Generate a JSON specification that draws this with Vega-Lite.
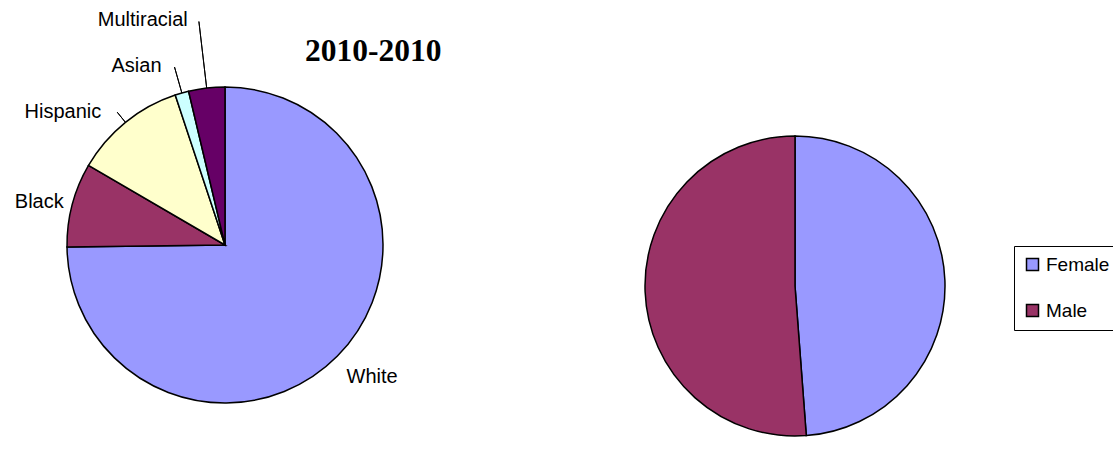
{
  "$schema": "https://vega.github.io/schema/vega-lite/v6.json",
  "width": 1113,
  "height": 454,
  "autosize": {"type": "fit", "contains": "padding"},
  "padding": 0,
  "background": "white",
  "config": {"view": {"stroke": null}, "text": {"font": "Liberation Sans", "color": "black"}},
  "title": {
    "text": "2010-2010",
    "font": "Liberation Serif",
    "fontSize": 31.5,
    "fontWeight": "bold",
    "color": "black",
    "anchor": "start",
    "frame": "group",
    "baseline": "alphabetic",
    "dx": 305,
    "offset": -92
  },
  "data": {
    "values": [
      {"chart": "race", "category": "White", "pct": 74.8, "order": 1},
      {"chart": "race", "category": "Black", "pct": 8.6, "order": 2},
      {"chart": "race", "category": "Hispanic", "pct": 11.5, "order": 3},
      {"chart": "race", "category": "Asian", "pct": 1.4, "order": 4},
      {"chart": "race", "category": "Multiracial", "pct": 3.7, "order": 5},
      {"chart": "gender", "category": "Female", "pct": 48.8, "order": 1},
      {"chart": "gender", "category": "Male", "pct": 51.2, "order": 2}
    ]
  },
  "encoding": {
    "x": {"field": "chart", "type": "nominal", "scale": {"type": "point", "domain": ["race", "gender"], "range": [225, 795], "padding": 0}, "axis": null},
    "y": {"field": "chart", "type": "nominal", "scale": {"type": "point", "domain": ["race", "gender"], "range": [245, 286], "padding": 0}, "axis": null},
    "theta": {"field": "pct", "type": "quantitative", "stack": true},
    "order": {"field": "order", "type": "quantitative"}
  },
  "layer": [
    {
      "transform": [{"filter": "datum.chart === 'race'"}],
      "mark": {"type": "arc", "radius": 158, "stroke": "black", "strokeWidth": 1.5},
      "encoding": {
        "color": {
          "field": "category", "type": "nominal",
          "scale": {"domain": ["White", "Black", "Hispanic", "Asian", "Multiracial", "Female", "Male"], "range": ["#9999FF", "#993366", "#FFFFCC", "#CCFFFF", "#660066", "#9999FF", "#993366"]},
          "legend": {"values": ["Female", "Male"], "title": null, "orient": "none", "legendX": 1014, "legendY": 246, "symbolType": "square", "symbolSize": 144, "symbolStrokeColor": "black", "symbolStrokeWidth": 1.5, "labelFontSize": 19, "labelFont": "Liberation Sans", "labelColor": "black", "rowPadding": 26, "padding": 9, "strokeColor": "black", "labelOffset": 4, "fillColor": "white"}
        }
      }
    },
    {
      "transform": [{"filter": "datum.chart === 'gender'"}],
      "mark": {"type": "arc", "radius": 150, "stroke": "black", "strokeWidth": 1.5},
      "encoding": {
        "color": {
          "field": "category", "type": "nominal",
          "scale": {"domain": ["White", "Black", "Hispanic", "Asian", "Multiracial", "Female", "Male"], "range": ["#9999FF", "#993366", "#FFFFCC", "#CCFFFF", "#660066", "#9999FF", "#993366"]},
          "legend": {"values": ["Female", "Male"], "title": null, "orient": "none", "legendX": 1014, "legendY": 246, "symbolType": "square", "symbolSize": 144, "symbolStrokeColor": "black", "symbolStrokeWidth": 1.5, "labelFontSize": 19, "labelFont": "Liberation Sans", "labelColor": "black", "rowPadding": 26, "padding": 9, "strokeColor": "black", "labelOffset": 4, "fillColor": "white"}
        }
      }
    },
    {
      "transform": [{"filter": "datum.chart === 'race'"}],
      "mark": {"type": "arc", "radius": 171, "radius2": 158, "padAngle": 3.14, "fillOpacity": 0, "stroke": "black", "strokeWidth": 1},
      "encoding": {"strokeOpacity": {"condition": {"test": "datum.category === 'Hispanic'", "value": 1}, "value": 0}}
    },
    {
      "transform": [{"filter": "datum.chart === 'race'"}],
      "mark": {"type": "arc", "radius": 185, "radius2": 158, "padAngle": 3.14, "fillOpacity": 0, "stroke": "black", "strokeWidth": 1},
      "encoding": {"strokeOpacity": {"condition": {"test": "datum.category === 'Asian'", "value": 1}, "value": 0}}
    },
    {
      "transform": [{"filter": "datum.chart === 'race'"}],
      "mark": {"type": "arc", "radius": 225, "radius2": 158, "padAngle": 3.14, "fillOpacity": 0, "stroke": "black", "strokeWidth": 1},
      "encoding": {"strokeOpacity": {"condition": {"test": "datum.category === 'Multiracial'", "value": 1}, "value": 0}}
    },
    {
      "transform": [{"filter": "datum.chart === 'race'"}],
      "mark": {"type": "text", "radius": 197, "fontSize": 20, "align": "center", "baseline": "middle", "dx": 7, "dy": -6},
      "encoding": {"text": {"condition": {"test": "datum.category !== 'White'", "value": ""}, "field": "category"}}
    },
    {
      "transform": [{"filter": "datum.chart === 'race'"}],
      "mark": {"type": "text", "radius": 190, "fontSize": 20, "align": "center", "baseline": "middle", "dx": -2, "dy": 5},
      "encoding": {"text": {"condition": {"test": "datum.category !== 'Black'", "value": ""}, "field": "category"}}
    },
    {
      "transform": [{"filter": "datum.chart === 'race'"}],
      "mark": {"type": "text", "radius": 171, "fontSize": 20, "align": "right", "baseline": "middle", "dx": -16, "dy": 0},
      "encoding": {"text": {"condition": {"test": "datum.category !== 'Hispanic'", "value": ""}, "field": "category"}}
    },
    {
      "transform": [{"filter": "datum.chart === 'race'"}],
      "mark": {"type": "text", "radius": 185, "fontSize": 20, "align": "right", "baseline": "middle", "dx": -13, "dy": -1},
      "encoding": {"text": {"condition": {"test": "datum.category !== 'Asian'", "value": ""}, "field": "category"}}
    },
    {
      "transform": [{"filter": "datum.chart === 'race'"}],
      "mark": {"type": "text", "radius": 200, "fontSize": 20, "align": "right", "baseline": "middle", "dx": -14, "dy": -26},
      "encoding": {"text": {"condition": {"test": "datum.category !== 'Multiracial'", "value": ""}, "field": "category"}}
    }
  ]
}
